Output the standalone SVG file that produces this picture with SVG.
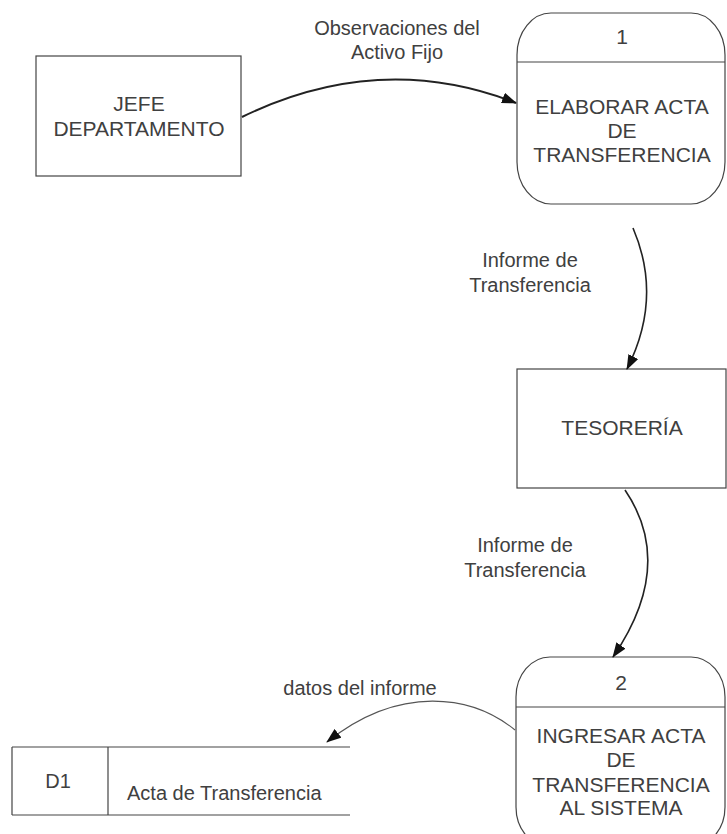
<svg xmlns="http://www.w3.org/2000/svg" width="727" height="834" viewBox="0 0 727 834">
<defs>
<style>
.box{fill:#fff;stroke:#444;stroke-width:1.2}
.t{font-family:"Liberation Sans",Arial,sans-serif;font-size:21px;fill:#404040;text-anchor:middle}
.ts{font-family:"Liberation Sans",Arial,sans-serif;font-size:20px;fill:#404040;text-anchor:middle}
.flow{fill:none;stroke:#222;stroke-width:2}
.thin{fill:none;stroke:#555;stroke-width:1.1}
</style>
<marker id="ah" viewBox="0 0 15 11" refX="14" refY="5.5" markerWidth="15" markerHeight="11" markerUnits="userSpaceOnUse" orient="auto">
<path d="M0,0 L15,5.5 L0,11 Z" fill="#111"/>
</marker>
</defs>
<rect width="727" height="834" fill="#fff"/>
<g id="jefe">
<rect class="box" x="36" y="56" width="205" height="120"/>
<text class="t" x="139" y="111">JEFE</text>
<text class="t" x="139" y="136">DEPARTAMENTO</text>
</g>
<g id="p1">
<rect class="box" x="517" y="13" width="208" height="191" rx="34" ry="42"/>
<line class="box" x1="517" y1="62" x2="725" y2="62"/>
<text class="t" x="622" y="44">1</text>
<text class="t" x="622" y="114">ELABORAR ACTA</text>
<text class="t" x="622" y="138">DE</text>
<text class="t" x="622" y="162">TRANSFERENCIA</text>
</g>
<g id="tesoreria">
<rect class="box" x="517" y="369" width="209" height="119"/>
<text class="t" x="622" y="435">TESORERÍA</text>
</g>
<g id="p2">
<rect class="box" x="516" y="657" width="209" height="190" rx="34" ry="40"/>
<line class="box" x1="516" y1="707" x2="725" y2="707"/>
<text class="t" x="621" y="690">2</text>
<text class="t" x="621" y="743">INGRESAR ACTA</text>
<text class="t" x="621" y="767">DE</text>
<text class="t" x="621" y="792">TRANSFERENCIA</text>
<text class="t" x="621" y="815">AL SISTEMA</text>
</g>
<g id="d1">
<line class="box" x1="12" y1="747" x2="350" y2="747"/>
<line class="box" x1="12" y1="815" x2="350" y2="815"/>
<line class="box" x1="12" y1="747" x2="12" y2="815"/>
<line class="box" x1="108" y1="747" x2="108" y2="815"/>
<text class="ts" x="58" y="788">D1</text>
<text class="ts" x="127" y="800" style="text-anchor:start">Acta de Transferencia</text>
</g>
<g id="connectors">
<path class="flow" d="M242,117 Q380,50 516,103" marker-end="url(#ah)"/>
<path class="flow" d="M633,228 Q663,298 627,369" marker-end="url(#ah)" style="stroke-width:1.6"/>
<path class="flow" d="M625,490 Q676,565 613,657" marker-end="url(#ah)" style="stroke-width:1.6"/>
<path class="thin" d="M515,730 C472,695 400,684 327,742" marker-end="url(#ah)"/>
<text class="ts" x="397" y="35">Observaciones del</text>
<text class="ts" x="397" y="59">Activo Fijo</text>
<text class="ts" x="530" y="267">Informe de</text>
<text class="ts" x="530" y="292">Transferencia</text>
<text class="ts" x="525" y="552">Informe de</text>
<text class="ts" x="525" y="577">Transferencia</text>
<text class="ts" x="360" y="695">datos del informe</text>
</g>
</svg>
